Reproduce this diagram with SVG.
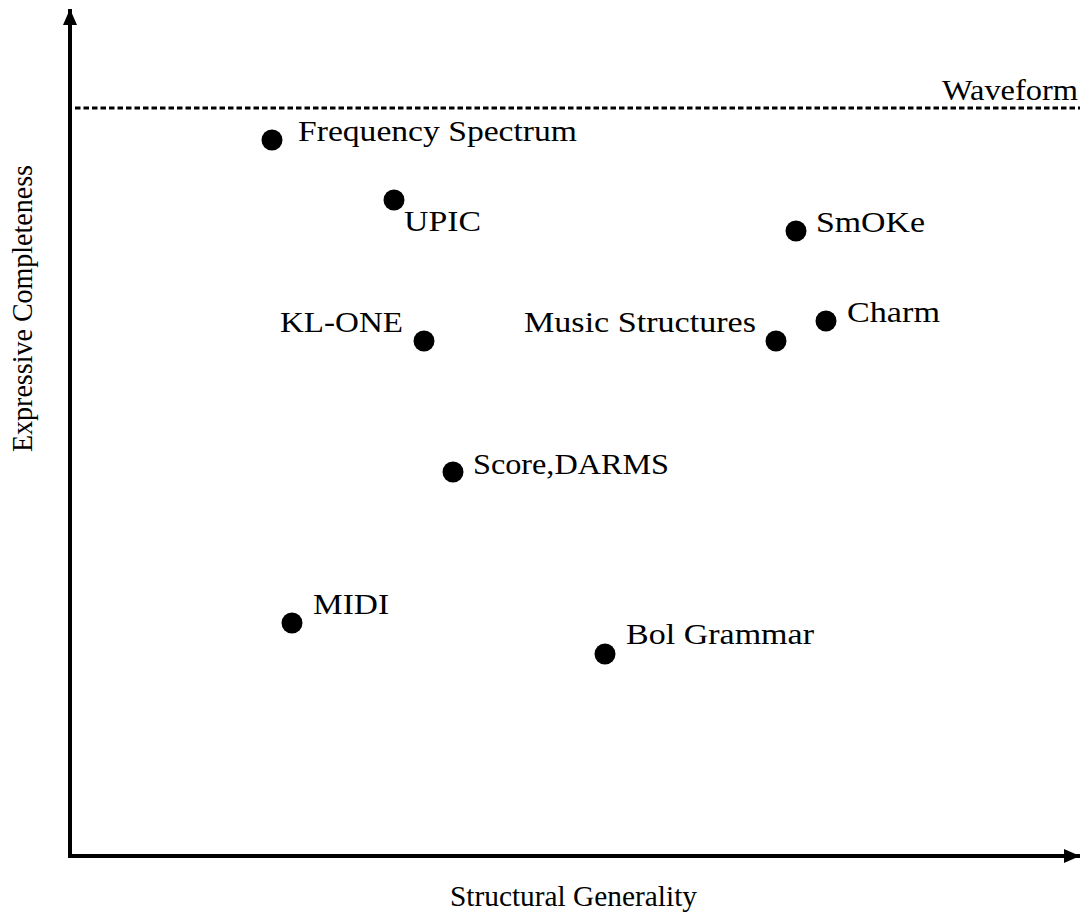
<svg xmlns="http://www.w3.org/2000/svg" width="1085" height="916" viewBox="0 0 1085 916">
<style>
text{font-family:"Liberation Serif","DejaVu Serif",serif;font-size:30px;fill:#000}
.dot{fill:#000}
.axis{stroke:#000;stroke-width:4;fill:none}
</style>
<defs>
<marker id="ah" viewBox="0 0 16 14" refX="16" refY="7" markerWidth="16" markerHeight="14" markerUnits="userSpaceOnUse" orient="auto">
<path d="M0,0 L16,7 L0,14 Z" fill="#000"/>
</marker>
</defs>
<rect width="1085" height="916" fill="#fff"/>
<g id="connectors">
<line class="axis" x1="70" y1="856" x2="70" y2="9" marker-end="url(#ah)"/>
<line class="axis" x1="68" y1="856" x2="1080" y2="856" marker-end="url(#ah)"/>
<line x1="75" y1="108" x2="1080" y2="108" stroke="#000" stroke-width="3" stroke-dasharray="5.5,3"/>
</g>
<g id="labels">
<text x="942" y="100" textLength="136" lengthAdjust="spacingAndGlyphs">Waveform</text>
<text x="450" y="906" textLength="247" lengthAdjust="spacingAndGlyphs">Structural Generality</text>
<text transform="translate(32,452) rotate(-90)" textLength="287" lengthAdjust="spacingAndGlyphs">Expressive Completeness</text>
</g>
<g id="frequency-spectrum"><circle class="dot" cx="272" cy="140" r="10.5"/><text x="298" y="141" textLength="279" lengthAdjust="spacingAndGlyphs">Frequency Spectrum</text></g>
<g id="upic"><circle class="dot" cx="394" cy="200" r="10.5"/><text x="404" y="231" textLength="77" lengthAdjust="spacingAndGlyphs">UPIC</text></g>
<g id="smoke"><circle class="dot" cx="796" cy="231" r="10.5"/><text x="816" y="232" textLength="109" lengthAdjust="spacingAndGlyphs">SmOKe</text></g>
<g id="kl-one"><circle class="dot" cx="424" cy="341" r="10.5"/><text x="280" y="332" textLength="123" lengthAdjust="spacingAndGlyphs">KL-ONE</text></g>
<g id="music-structures"><circle class="dot" cx="776" cy="341" r="10.5"/><text x="524" y="332" textLength="232" lengthAdjust="spacingAndGlyphs">Music Structures</text></g>
<g id="charm"><circle class="dot" cx="826" cy="321" r="10.5"/><text x="847" y="322" textLength="93" lengthAdjust="spacingAndGlyphs">Charm</text></g>
<g id="score-darms"><circle class="dot" cx="453" cy="472" r="10.5"/><text x="473" y="474" textLength="196" lengthAdjust="spacingAndGlyphs">Score,DARMS</text></g>
<g id="midi"><circle class="dot" cx="292" cy="623" r="10.5"/><text x="313" y="614" textLength="76" lengthAdjust="spacingAndGlyphs">MIDI</text></g>
<g id="bol-grammar"><circle class="dot" cx="605" cy="654" r="10.5"/><text x="626" y="644" textLength="188" lengthAdjust="spacingAndGlyphs">Bol Grammar</text></g>
</svg>
